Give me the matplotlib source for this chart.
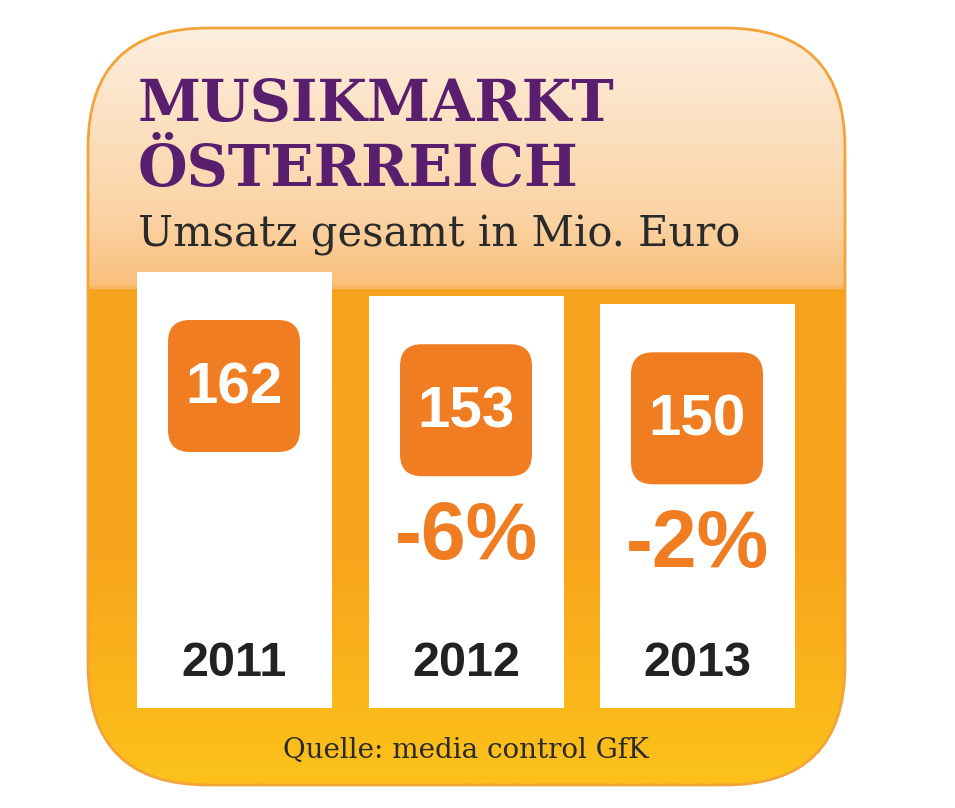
import numpy as np
import matplotlib
matplotlib.use("Agg")
import matplotlib.pyplot as plt
from matplotlib.patches import FancyBboxPatch
from matplotlib.colors import LinearSegmentedColormap

years = ["2011", "2012", "2013"]
values = [162, 153, 150]
changes = ["", "-6%", "-2%"]
title_lines = ["MUSIKMARKT", "ÖSTERREICH"]
subtitle = "Umsatz gesamt in Mio. Euro"
source = "Quelle: media control GfK"

W, H = 955, 808
fig = plt.figure(figsize=(W/100, H/100), dpi=100)
ax = fig.add_axes([0, 0, 1, 1])
ax.set_xlim(0, W); ax.set_ylim(H, 0); ax.axis("off")

bg = FancyBboxPatch((88, 28), 757, 757, boxstyle="round,pad=0,rounding_size=120",
                    fc="none", ec="#f2a33a", lw=2, zorder=2)
ax.add_patch(bg)
cmap = LinearSegmentedColormap.from_list("g", [
    (0.0, "#fdeede"), (0.25, "#fbd3a4"), (0.34, "#f9c07a"), (0.345, "#f7a21e"),
    (0.7, "#f8a51c"), (1.0, "#fcc21a")])
grad = np.linspace(0, 1, 400).reshape(-1, 1)
im = ax.imshow(grad, cmap=cmap, extent=(88, 845, 785, 28), aspect="auto", zorder=1)
im.set_clip_path(bg)

scale = 436 / 162
base = 708
xs = [234, 466, 697]
bw = 195
ax.bar(xs, [-v*scale for v in values], width=bw, bottom=base, color="white", zorder=3)

vfont = ["Liberation Sans", "DejaVu Sans"]
for i, (x, v) in enumerate(zip(xs, values)):
    top = base - v*scale
    cy = top + 114
    box = FancyBboxPatch((x-66, cy-66), 132, 132, boxstyle="round,pad=0,rounding_size=22",
                         fc="#f07d22", ec="none", zorder=4)
    ax.add_patch(box)
    ax.text(x, cy+2, str(v), ha="center", va="center", color="white",
            fontsize=42, fontweight="bold", family=vfont, zorder=5)
    if changes[i]:
        ax.text(x, cy+128, changes[i], ha="center", va="center", color="#f07d22",
                fontsize=58, fontweight="bold", family=vfont, zorder=5)
    ax.text(x, 664, years[i], ha="center", va="center", color="#222222",
            fontsize=35, fontweight="bold", family=vfont, zorder=5)

for line, yb in zip(title_lines, [121, 186]):
    ax.text(138, yb, line, ha="left", va="baseline", color="#5a1e6e", fontsize=41,
            fontweight="bold", family=["DejaVu Serif"], zorder=5)
ax.text(138, 246, subtitle, ha="left", va="baseline", color="#2a2a2a", fontsize=30,
        family=["DejaVu Serif"], zorder=5)
ax.text(466, 750, source, ha="center", va="center", color="#2a2a2a", fontsize=20,
        family=["DejaVu Serif"], zorder=5)

fig.savefig("out.png", dpi=100, facecolor="white")
